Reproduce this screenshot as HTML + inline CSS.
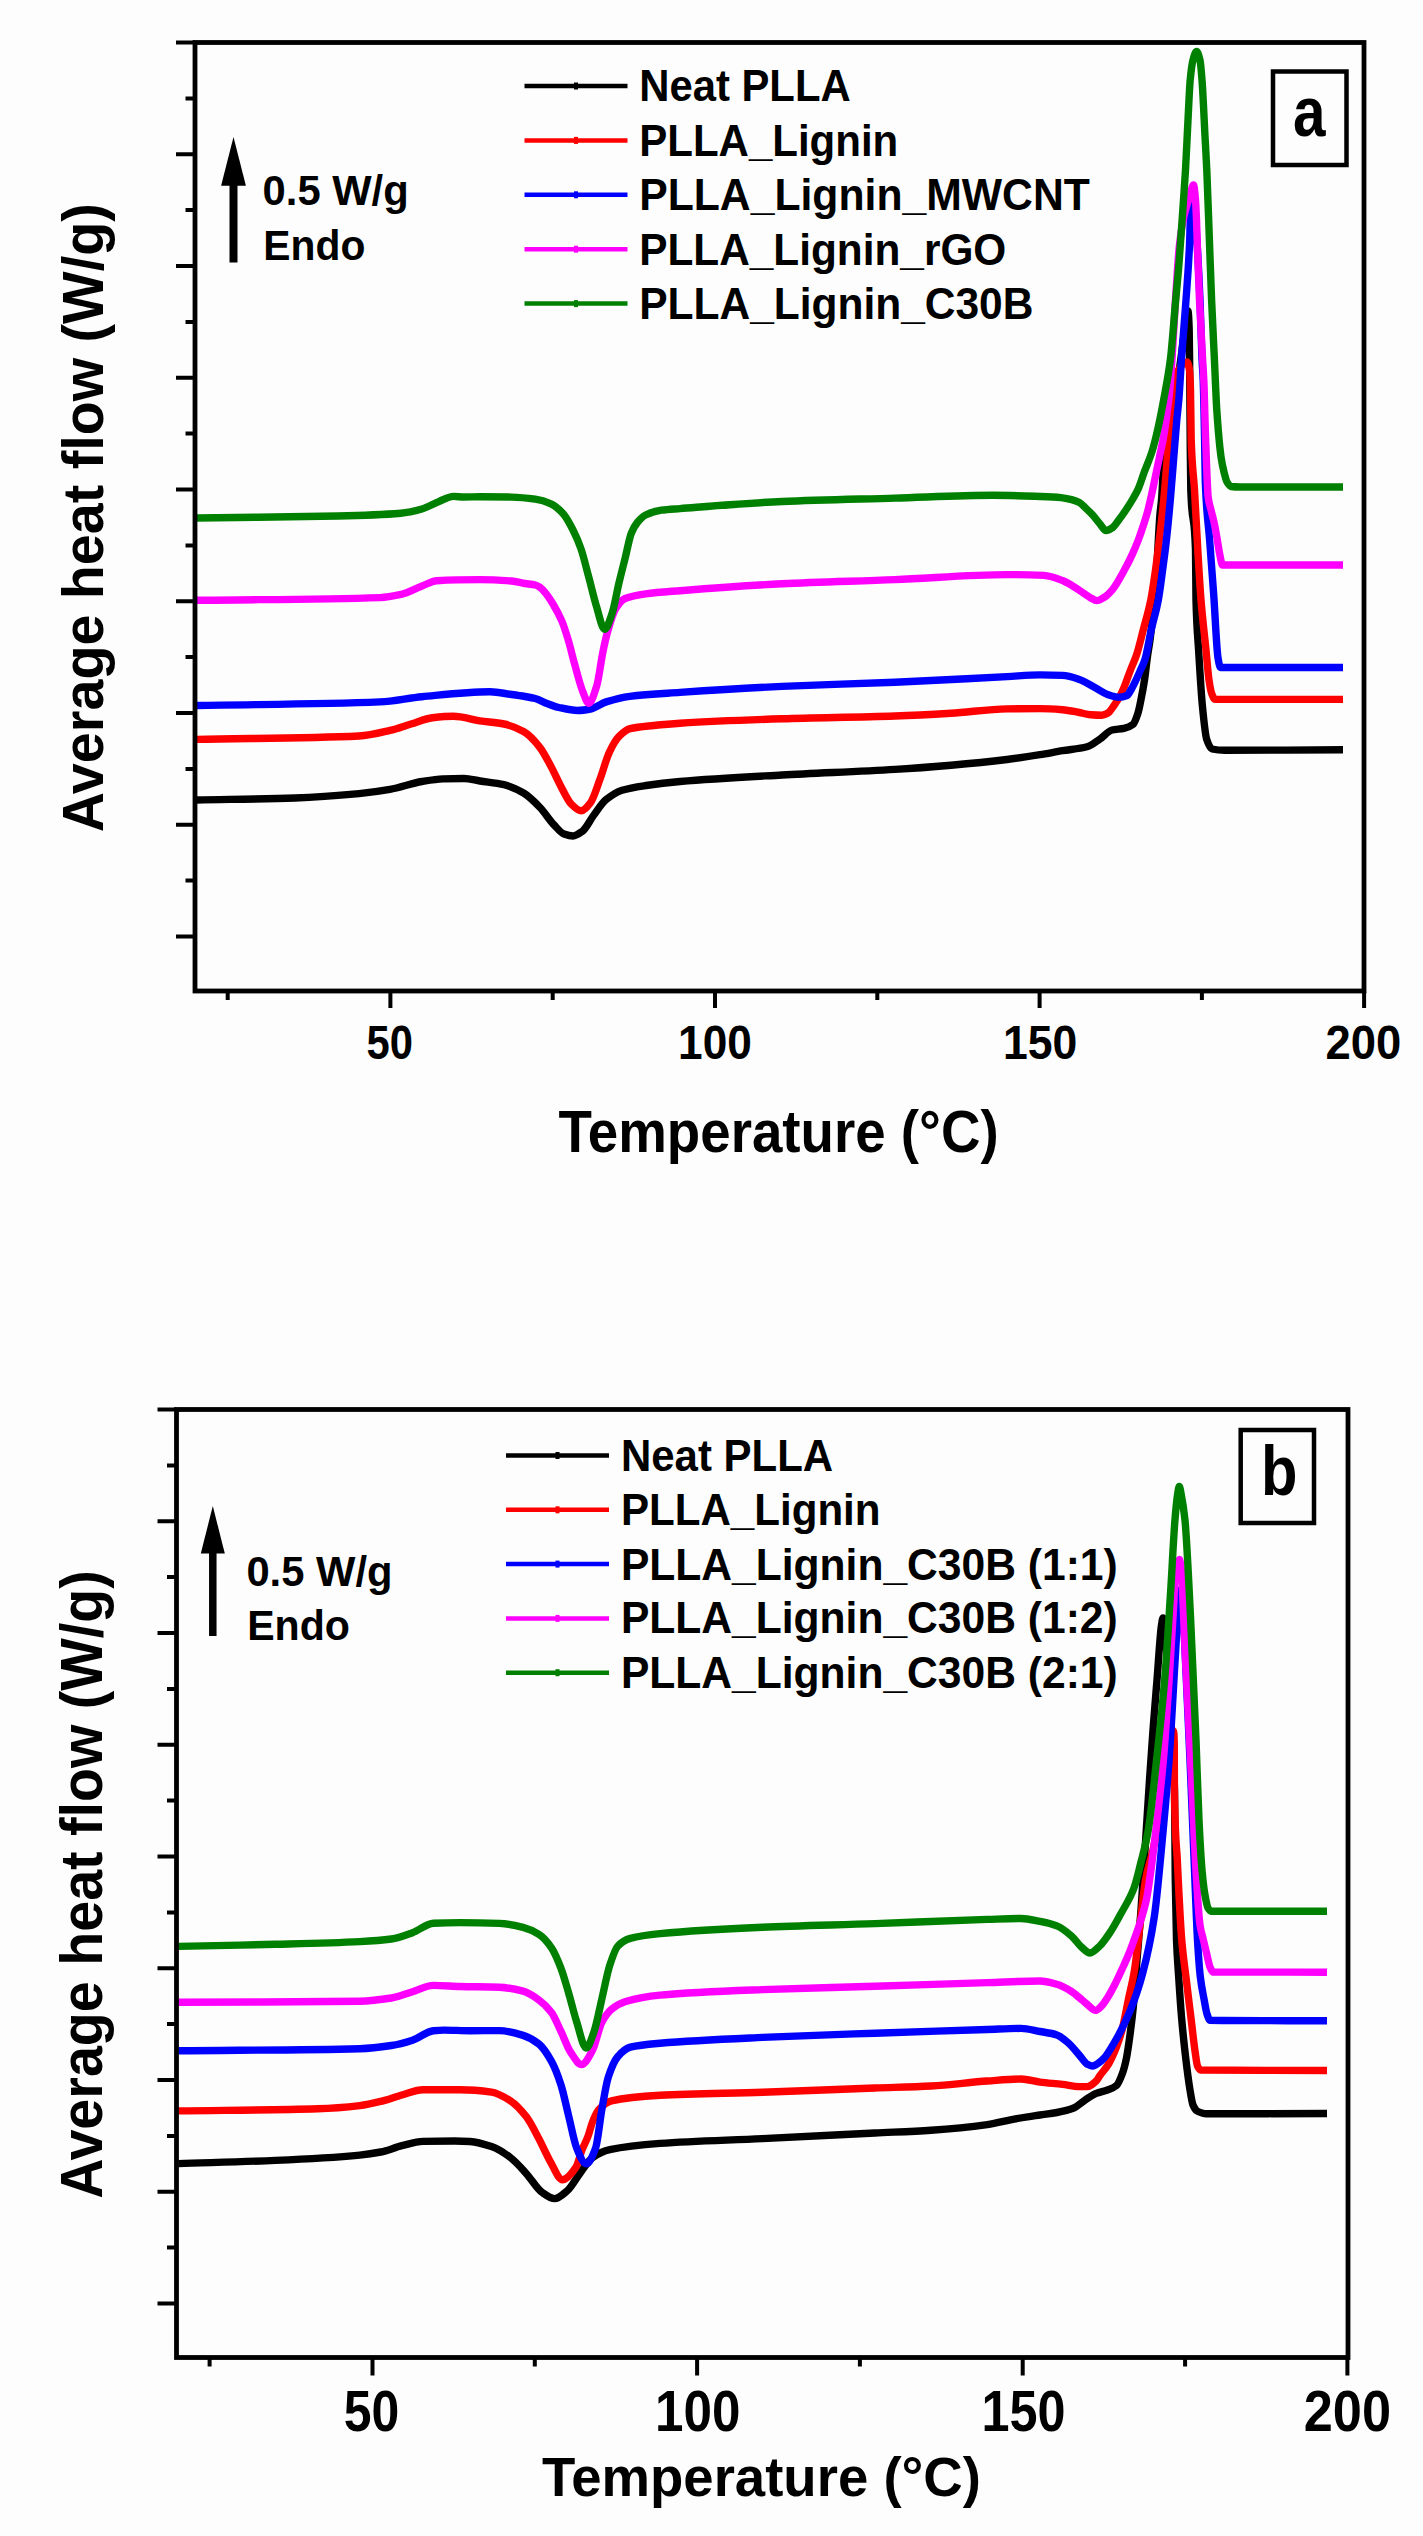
<!DOCTYPE html>
<html><head><meta charset="utf-8"><title>DSC thermograms</title><style>
html,body{margin:0;padding:0;background:#fdfdfd;overflow:hidden;}
svg{display:block;}
text{font-family:"Liberation Sans",sans-serif;font-weight:bold;fill:#000;}
</style></head><body>
<svg xmlns="http://www.w3.org/2000/svg" width="1423" height="2536" viewBox="0 0 1423 2536">
<rect width="1423" height="2536" fill="#fdfdfd"/>
<g>
<path d="M197.00,800.00 C229.67,799.33 262.33,799.07 295.00,798.00 C316.33,797.30 337.67,795.62 359.00,793.60 C369.33,792.62 379.67,791.21 390.00,789.40 C400.67,787.54 411.33,783.22 422.00,781.50 C429.00,780.37 436.00,779.13 443.00,778.90 C450.00,778.67 457.00,778.50 464.00,778.50 C469.33,778.50 474.67,780.17 480.00,781.00 C488.00,782.24 496.00,782.86 504.00,784.70 C510.67,786.24 517.33,789.39 524.00,793.30 C529.33,796.43 534.67,801.96 540.00,807.50 C544.67,812.35 549.33,820.04 554.00,824.90 C557.33,828.37 560.67,832.82 564.00,834.00 C567.00,835.06 570.00,836.00 573.00,836.00 C576.17,836.00 579.33,833.53 582.50,831.20 C586.20,828.47 589.90,820.36 593.60,815.40 C597.73,809.85 601.87,803.09 606.00,799.70 C611.33,795.32 616.67,791.83 622.00,790.20 C630.00,787.76 638.00,786.69 646.00,785.50 C657.33,783.81 668.67,782.49 680.00,781.50 C714.00,778.54 748.00,776.90 782.00,775.00 C819.67,772.90 857.33,771.70 895.00,769.40 C913.67,768.26 932.33,766.81 951.00,765.20 C969.67,763.59 988.33,761.77 1007.00,759.50 C1018.00,758.16 1029.00,756.47 1040.00,754.70 C1047.50,753.49 1055.00,751.96 1062.50,750.70 C1070.67,749.33 1078.83,748.98 1087.00,746.80 C1091.33,745.64 1095.67,741.89 1100.00,739.00 C1104.00,736.33 1108.00,730.95 1112.00,730.00 C1116.00,729.05 1120.00,729.18 1124.00,728.30 C1127.00,727.64 1130.00,726.68 1133.00,724.30 C1134.67,722.98 1136.33,718.14 1138.00,713.00 C1139.00,709.91 1140.00,704.56 1141.00,699.60 C1142.20,693.65 1143.40,687.37 1144.60,679.40 C1145.53,673.20 1146.47,663.71 1147.40,657.00 C1148.27,650.77 1149.13,646.67 1150.00,640.00 C1152.00,624.61 1154.00,605.32 1156.00,580.00 C1157.33,563.12 1158.67,529.26 1160.00,514.00 C1160.50,508.28 1161.00,505.76 1161.50,500.00 C1162.17,492.32 1162.83,475.02 1163.50,469.00 C1165.17,453.95 1166.83,450.40 1168.50,440.00 C1169.50,433.76 1170.50,426.67 1171.50,420.00 C1173.00,410.00 1174.50,399.67 1176.00,390.00 C1177.33,381.40 1178.67,374.09 1180.00,365.00 C1181.33,355.91 1182.67,344.47 1184.00,335.00 C1184.83,329.08 1185.67,322.54 1186.50,318.00 C1187.00,315.27 1187.50,311.00 1188.00,311.00 C1188.40,311.00 1188.80,318.27 1189.20,330.00 C1189.33,333.91 1189.47,347.03 1189.60,360.00 C1189.70,369.73 1189.80,387.08 1189.90,400.00 C1190.03,417.23 1190.17,436.89 1190.30,450.00 C1190.47,466.39 1190.63,485.44 1190.80,490.00 C1192.37,532.86 1193.93,505.20 1195.50,550.00 C1195.67,554.77 1195.83,593.65 1196.00,600.00 C1196.87,633.01 1197.73,635.47 1198.60,650.00 C1199.90,671.79 1201.20,693.82 1202.50,707.00 C1203.90,721.19 1205.30,735.19 1206.70,739.40 C1208.47,744.71 1210.23,748.62 1212.00,749.00 C1216.33,749.94 1220.67,750.30 1225.00,750.30 C1264.33,750.30 1303.67,749.97 1343.00,749.80" fill="none" stroke="#000000" stroke-width="7.4" stroke-linejoin="round" stroke-linecap="butt"/>
<path d="M197.00,739.40 C251.00,738.27 305.00,738.47 359.00,736.00 C369.33,735.53 379.67,732.78 390.00,730.40 C397.00,728.79 404.00,726.09 411.00,724.00 C418.17,721.86 425.33,718.48 432.50,717.70 C439.50,716.94 446.50,716.30 453.50,716.30 C462.33,716.30 471.17,719.48 480.00,720.80 C488.00,721.99 496.00,722.39 504.00,724.00 C510.67,725.34 517.33,728.01 524.00,731.80 C529.33,734.83 534.67,740.80 540.00,747.60 C543.67,752.28 547.33,759.71 551.00,766.50 C554.67,773.29 558.33,781.94 562.00,788.60 C565.17,794.35 568.33,801.40 571.50,804.40 C574.67,807.40 577.83,810.70 581.00,810.70 C584.13,810.70 587.27,806.72 590.40,802.80 C593.60,798.79 596.80,787.61 600.00,779.10 C603.10,770.85 606.20,758.82 609.30,752.30 C612.47,745.64 615.63,739.77 618.80,736.60 C622.53,732.87 626.27,729.63 630.00,728.70 C637.83,726.76 645.67,726.33 653.50,725.50 C662.33,724.56 671.17,723.74 680.00,723.20 C714.00,721.10 748.00,719.88 782.00,718.80 C819.67,717.61 857.33,717.30 895.00,716.00 C913.67,715.36 932.33,714.33 951.00,713.20 C969.67,712.07 988.33,709.18 1007.00,708.90 C1018.00,708.73 1029.00,708.60 1040.00,708.60 C1047.50,708.60 1055.00,709.12 1062.50,709.70 C1068.13,710.14 1073.77,711.46 1079.40,712.50 C1083.13,713.19 1086.87,714.53 1090.60,714.80 C1094.33,715.07 1098.07,715.30 1101.80,715.30 C1103.87,715.30 1105.93,714.18 1108.00,713.00 C1110.27,711.71 1112.53,707.54 1114.80,704.30 C1116.53,701.83 1118.27,699.18 1120.00,696.00 C1121.33,693.55 1122.67,690.64 1124.00,687.50 C1126.17,682.40 1128.33,675.61 1130.50,670.00 C1132.50,664.82 1134.50,660.97 1136.50,655.00 C1138.73,648.34 1140.97,638.56 1143.20,630.00 C1145.73,620.29 1148.27,612.59 1150.80,600.00 C1152.37,592.21 1153.93,581.10 1155.50,570.00 C1156.77,561.03 1158.03,550.70 1159.30,540.00 C1160.83,527.05 1162.37,513.76 1163.90,498.00 C1165.57,480.87 1167.23,456.04 1168.90,439.00 C1169.77,430.14 1170.63,423.51 1171.50,415.00 C1172.23,407.80 1172.97,399.15 1173.70,392.00 C1174.13,387.77 1174.57,382.06 1175.00,380.00 C1176.17,374.46 1177.33,372.15 1178.50,370.00 C1180.00,367.23 1181.50,365.08 1183.00,364.00 C1184.33,363.04 1185.67,362.00 1187.00,362.00 C1187.83,362.00 1188.67,364.87 1189.50,370.00 C1189.83,372.05 1190.17,379.23 1190.50,390.00 C1190.73,397.54 1190.97,433.21 1191.20,440.00 C1192.30,472.01 1193.40,471.82 1194.50,490.00 C1195.60,508.18 1196.70,531.52 1197.80,550.00 C1198.87,567.92 1199.93,586.78 1201.00,600.00 C1202.67,620.66 1204.33,633.33 1206.00,650.00 C1207.00,660.00 1208.00,673.22 1209.00,680.00 C1209.83,685.65 1210.67,690.68 1211.50,693.00 C1212.67,696.24 1213.83,699.40 1215.00,699.40 C1257.67,699.40 1300.33,699.40 1343.00,699.40" fill="none" stroke="#ff0000" stroke-width="7.4" stroke-linejoin="round" stroke-linecap="butt"/>
<path d="M197.00,705.50 C258.00,704.30 319.00,704.34 380.00,701.90 C394.00,701.34 408.00,698.00 422.00,696.70 C444.67,694.59 467.33,691.80 490.00,691.80 C497.17,691.80 504.33,693.52 511.50,694.50 C516.00,695.12 520.50,695.74 525.00,696.50 C528.40,697.08 531.80,697.60 535.20,698.50 C539.13,699.55 543.07,702.03 547.00,703.50 C550.97,704.99 554.93,706.62 558.90,707.50 C565.20,708.90 571.50,710.50 577.80,710.50 C582.00,710.50 586.20,709.77 590.40,709.00 C595.67,708.03 600.93,703.57 606.20,701.90 C614.07,699.41 621.93,697.28 629.80,696.30 C646.53,694.21 663.27,693.54 680.00,692.40 C714.00,690.09 748.00,687.95 782.00,686.40 C819.67,684.68 857.33,683.81 895.00,682.20 C932.33,680.61 969.67,678.50 1007.00,676.60 C1018.00,676.04 1029.00,674.90 1040.00,674.90 C1047.50,674.90 1055.00,675.08 1062.50,675.40 C1068.13,675.64 1073.77,677.56 1079.40,679.40 C1085.00,681.23 1090.60,685.28 1096.20,688.30 C1099.97,690.33 1103.73,693.21 1107.50,694.50 C1111.23,695.78 1114.97,697.30 1118.70,697.30 C1121.47,697.30 1124.23,696.63 1127.00,695.50 C1128.50,694.89 1130.00,691.51 1131.50,689.00 C1133.17,686.21 1134.83,682.54 1136.50,679.00 C1137.83,676.17 1139.17,673.05 1140.50,670.00 C1141.93,666.72 1143.37,664.36 1144.80,660.00 C1146.93,653.51 1149.07,639.49 1151.20,630.00 C1153.57,619.47 1155.93,612.71 1158.30,600.00 C1159.73,592.30 1161.17,580.63 1162.60,570.00 C1163.87,560.61 1165.13,551.29 1166.40,540.00 C1167.73,528.12 1169.07,514.00 1170.40,499.00 C1171.47,487.00 1172.53,472.57 1173.60,459.40 C1174.67,446.23 1175.73,431.68 1176.80,420.00 C1177.47,412.70 1178.13,407.96 1178.80,400.00 C1179.70,389.26 1180.60,371.74 1181.50,359.00 C1183.00,337.76 1184.50,321.52 1186.00,300.00 C1187.17,283.26 1188.33,270.54 1189.50,245.00 C1189.83,237.70 1190.17,220.65 1190.50,215.00 C1191.00,206.52 1191.50,198.00 1192.00,198.00 C1192.83,198.00 1193.67,202.88 1194.50,208.00 C1195.40,213.53 1196.30,230.49 1197.20,245.00 C1198.13,260.05 1199.07,277.74 1200.00,300.00 C1200.67,315.90 1201.33,344.66 1202.00,359.00 C1202.40,367.60 1202.80,370.17 1203.20,380.00 C1203.67,391.47 1204.13,416.23 1204.60,440.00 C1204.83,451.89 1205.07,475.97 1205.30,482.00 C1206.70,518.19 1208.10,519.63 1209.50,538.40 C1210.90,557.17 1212.30,574.99 1213.70,594.60 C1215.13,614.68 1216.57,649.43 1218.00,657.80 C1218.83,662.67 1219.67,667.50 1220.50,667.50 C1261.33,667.50 1302.17,667.50 1343.00,667.50" fill="none" stroke="#0000ff" stroke-width="7.4" stroke-linejoin="round" stroke-linecap="butt"/>
<path d="M197.00,600.30 C258.00,599.40 319.00,599.70 380.00,597.60 C387.00,597.36 394.00,595.94 401.00,594.40 C408.00,592.86 415.00,588.65 422.00,586.00 C426.90,584.15 431.80,580.97 436.70,580.70 C451.13,579.90 465.57,579.60 480.00,579.60 C490.50,579.60 501.00,580.18 511.50,581.00 C516.00,581.35 520.50,582.77 525.00,583.50 C528.40,584.05 531.80,584.17 535.20,585.00 C536.80,585.39 538.40,586.33 540.00,587.40 C542.33,588.96 544.67,592.05 547.00,595.00 C549.00,597.53 551.00,600.65 553.00,604.00 C556.00,609.03 559.00,614.26 562.00,621.40 C564.10,626.40 566.20,633.29 568.30,640.30 C570.40,647.31 572.50,656.49 574.60,664.00 C577.23,673.41 579.87,684.24 582.50,690.80 C584.60,696.03 586.70,703.40 588.80,703.40 C591.43,703.40 594.07,694.41 596.70,686.00 C598.80,679.29 600.90,661.43 603.00,651.40 C604.60,643.75 606.20,636.44 607.80,630.90 C610.40,621.90 613.00,612.94 615.60,608.80 C618.77,603.76 621.93,599.80 625.10,598.50 C631.93,595.69 638.77,594.72 645.60,593.80 C657.07,592.26 668.53,591.61 680.00,590.70 C714.00,588.01 748.00,585.44 782.00,583.80 C819.67,581.98 857.33,581.13 895.00,579.60 C932.33,578.09 969.67,574.60 1007.00,574.60 C1019.30,574.60 1031.60,574.86 1043.90,575.40 C1050.43,575.69 1056.97,578.45 1063.50,581.00 C1068.80,583.07 1074.10,587.08 1079.40,590.40 C1082.93,592.61 1086.47,595.53 1090.00,597.40 C1092.37,598.65 1094.73,600.60 1097.10,600.60 C1099.40,600.60 1101.70,598.88 1104.00,597.50 C1106.83,595.80 1109.67,592.92 1112.50,589.60 C1116.50,584.92 1120.50,577.06 1124.50,569.80 C1127.13,565.02 1129.77,559.84 1132.40,554.10 C1134.37,549.81 1136.33,545.15 1138.30,540.00 C1140.03,535.46 1141.77,530.37 1143.50,525.00 C1145.00,520.35 1146.50,515.65 1148.00,510.00 C1149.17,505.60 1150.33,500.25 1151.50,495.00 C1152.83,489.00 1154.17,482.33 1155.50,476.00 C1156.83,469.67 1158.17,463.41 1159.50,457.00 C1160.67,451.40 1161.83,446.30 1163.00,440.00 C1163.83,435.50 1164.67,430.58 1165.50,425.00 C1166.17,420.54 1166.83,415.27 1167.50,410.00 C1168.10,405.26 1168.70,401.06 1169.30,395.00 C1170.20,385.91 1171.10,372.33 1172.00,359.00 C1173.17,341.72 1174.33,317.71 1175.50,300.00 C1176.83,279.76 1178.17,256.78 1179.50,245.00 C1181.00,231.74 1182.50,222.82 1184.00,216.00 C1185.83,207.67 1187.67,202.87 1189.50,197.00 C1190.83,192.73 1192.17,185.00 1193.50,185.00 C1194.17,185.00 1194.83,192.34 1195.50,200.00 C1195.83,203.83 1196.17,212.00 1196.50,220.00 C1196.83,228.00 1197.17,240.82 1197.50,250.00 C1198.17,268.37 1198.83,285.41 1199.50,300.00 C1200.53,322.61 1201.57,340.70 1202.60,359.30 C1203.00,366.50 1203.40,371.14 1203.80,380.00 C1204.40,393.29 1205.00,423.05 1205.60,439.00 C1206.50,462.92 1207.40,491.35 1208.30,498.00 C1209.20,504.65 1210.10,506.21 1211.00,510.00 C1212.00,514.21 1213.00,517.43 1214.00,522.00 C1215.00,526.57 1216.00,532.34 1217.00,538.00 C1217.80,542.53 1218.60,548.49 1219.40,552.40 C1220.43,557.45 1221.47,565.00 1222.50,565.00 C1262.67,565.00 1302.83,565.00 1343.00,565.00" fill="none" stroke="#ff00ff" stroke-width="7.4" stroke-linejoin="round" stroke-linecap="butt"/>
<path d="M197.00,518.00 C243.87,517.33 290.73,517.08 337.60,516.00 C358.67,515.51 379.73,514.91 400.80,513.20 C407.83,512.63 414.87,510.95 421.90,509.00 C427.53,507.44 433.17,503.80 438.80,501.60 C443.70,499.69 448.60,496.40 453.50,496.40 C457.00,496.40 460.50,497.00 464.00,497.00 C469.33,497.00 474.67,496.80 480.00,496.80 C490.50,496.80 501.00,496.91 511.50,497.10 C519.40,497.24 527.30,498.08 535.20,499.20 C540.47,499.95 545.73,501.56 551.00,503.90 C555.20,505.76 559.40,509.50 563.60,514.20 C566.73,517.71 569.87,523.82 573.00,530.00 C575.67,535.26 578.33,541.25 581.00,548.90 C583.60,556.36 586.20,567.65 588.80,577.30 C591.43,587.07 594.07,598.73 596.70,607.20 C599.33,615.67 601.97,629.30 604.60,629.30 C607.23,629.30 609.87,619.86 612.50,612.00 C614.60,605.73 616.70,592.52 618.80,583.60 C620.90,574.68 623.00,566.73 625.10,558.30 C627.20,549.87 629.30,538.11 631.40,533.00 C633.50,527.89 635.60,524.50 637.70,522.00 C640.33,518.87 642.97,516.26 645.60,515.00 C650.87,512.48 656.13,510.92 661.40,510.20 C667.60,509.36 673.80,509.09 680.00,508.60 C714.00,505.92 748.00,502.94 782.00,501.50 C819.67,499.91 857.33,499.20 895.00,498.10 C927.67,497.14 960.33,495.30 993.00,495.30 C1008.67,495.30 1024.33,495.94 1040.00,496.50 C1047.00,496.75 1054.00,496.98 1061.00,497.60 C1064.53,497.91 1068.07,498.78 1071.60,499.70 C1074.20,500.37 1076.80,501.15 1079.40,502.50 C1081.50,503.59 1083.60,506.13 1085.70,508.10 C1088.03,510.29 1090.37,512.54 1092.70,515.10 C1095.03,517.66 1097.37,520.92 1099.70,523.60 C1101.83,526.05 1103.97,530.60 1106.10,530.60 C1108.20,530.60 1110.30,529.17 1112.40,527.80 C1114.50,526.43 1116.60,522.85 1118.70,520.10 C1121.03,517.04 1123.37,513.68 1125.70,510.20 C1128.07,506.67 1130.43,503.09 1132.80,499.00 C1134.67,495.78 1136.53,492.61 1138.40,488.40 C1140.30,484.12 1142.20,477.68 1144.10,472.50 C1146.80,465.14 1149.50,459.63 1152.20,451.00 C1154.00,445.25 1155.80,437.85 1157.60,430.00 C1159.73,420.70 1161.87,409.68 1164.00,398.00 C1166.13,386.32 1168.27,376.21 1170.40,359.30 C1172.17,345.30 1173.93,319.65 1175.70,300.00 C1176.77,288.14 1177.83,277.71 1178.90,264.60 C1180.43,245.76 1181.97,222.34 1183.50,200.00 C1184.17,190.29 1184.83,181.37 1185.50,170.00 C1186.33,155.79 1187.17,135.86 1188.00,120.00 C1188.73,106.05 1189.47,87.65 1190.20,80.00 C1191.13,70.26 1192.07,63.38 1193.00,60.00 C1194.20,55.65 1195.40,51.50 1196.60,51.50 C1197.73,51.50 1198.87,55.22 1200.00,60.00 C1200.67,62.81 1201.33,71.50 1202.00,80.00 C1203.07,93.59 1204.13,120.00 1205.20,140.00 C1205.73,150.00 1206.27,158.38 1206.80,170.00 C1207.67,188.89 1208.53,216.51 1209.40,240.00 C1210.13,259.87 1210.87,282.43 1211.60,300.00 C1212.53,322.37 1213.47,339.56 1214.40,359.30 C1215.20,376.22 1216.00,398.12 1216.80,410.00 C1218.27,431.78 1219.73,448.21 1221.20,458.00 C1222.13,464.23 1223.07,468.26 1224.00,472.00 C1225.00,476.01 1226.00,480.28 1227.00,482.00 C1228.33,484.30 1229.67,486.34 1231.00,486.50 C1234.00,486.86 1237.00,487.00 1240.00,487.00 C1274.33,487.00 1308.67,487.00 1343.00,487.00" fill="none" stroke="#008000" stroke-width="7.4" stroke-linejoin="round" stroke-linecap="butt"/>
<rect x="195" y="42.5" width="1169.0" height="948.5" fill="none" stroke="#000" stroke-width="4.8"/>
<path d="M176.0,42.5H195M176.0,154.2H195M176.0,266.0H195M176.0,377.8H195M176.0,489.5H195M176.0,601.2H195M176.0,713.0H195M176.0,824.8H195M176.0,936.5H195M185.5,98.4H195M185.5,210.1H195M185.5,321.9H195M185.5,433.6H195M185.5,545.4H195M185.5,657.1H195M185.5,768.9H195M185.5,880.6H195M390.4,991V1008.0M715.0,991V1008.0M1039.6,991V1008.0M1364.1,991V1008.0M227.7,991V1000.0M552.7,991V1000.0M877.3,991V1000.0M1201.9,991V1000.0" stroke="#000" stroke-width="4" fill="none"/>
<line x1="524.5" y1="86.0" x2="627.5" y2="86.0" stroke="#000000" stroke-width="4.5"/>
<rect x="574.0" y="82.5" width="4" height="7" fill="#000000"/>
<line x1="524.5" y1="140.4" x2="627.5" y2="140.4" stroke="#ff0000" stroke-width="4.5"/>
<rect x="574.0" y="136.9" width="4" height="7" fill="#ff0000"/>
<line x1="524.5" y1="194.8" x2="627.5" y2="194.8" stroke="#0000ff" stroke-width="4.5"/>
<rect x="574.0" y="191.3" width="4" height="7" fill="#0000ff"/>
<line x1="524.5" y1="249.2" x2="627.5" y2="249.2" stroke="#ff00ff" stroke-width="4.5"/>
<rect x="574.0" y="245.7" width="4" height="7" fill="#ff00ff"/>
<line x1="524.5" y1="303.6" x2="627.5" y2="303.6" stroke="#008000" stroke-width="4.5"/>
<rect x="574.0" y="300.1" width="4" height="7" fill="#008000"/>
<line x1="233.5" y1="183.7" x2="233.5" y2="262.5" stroke="#000" stroke-width="8"/>
<polygon points="233.5,137 221.1,185.7 245.9,185.7" fill="#000"/>
<rect x="1273" y="71.5" width="73.5" height="93.5" fill="none" stroke="#000" stroke-width="4.5"/>
</g>
<g>
<path d="M178.40,2163.60 C210.73,2162.53 243.07,2161.81 275.40,2160.40 C303.53,2159.17 331.67,2157.80 359.80,2155.10 C366.80,2154.43 373.80,2153.38 380.80,2152.00 C387.83,2150.61 394.87,2147.40 401.90,2145.70 C408.93,2144.00 415.97,2141.58 423.00,2141.40 C433.53,2141.13 444.07,2141.00 454.60,2141.00 C459.73,2141.00 464.87,2141.22 470.00,2141.50 C477.17,2141.89 484.33,2144.17 491.50,2146.60 C497.83,2148.75 504.17,2152.90 510.50,2157.60 C515.73,2161.48 520.97,2167.68 526.20,2173.40 C531.47,2179.16 536.73,2188.64 542.00,2192.30 C546.20,2195.22 550.40,2198.60 554.60,2198.60 C558.83,2198.60 563.07,2194.33 567.30,2190.70 C571.50,2187.10 575.70,2178.91 579.90,2173.40 C584.10,2167.89 588.30,2160.48 592.50,2157.60 C598.27,2153.64 604.03,2150.95 609.80,2149.70 C626.53,2146.07 643.27,2144.60 660.00,2143.40 C694.13,2140.94 728.27,2140.25 762.40,2138.60 C799.90,2136.79 837.40,2134.87 874.90,2133.00 C893.63,2132.07 912.37,2131.44 931.10,2130.20 C949.83,2128.96 968.57,2127.20 987.30,2124.60 C996.67,2123.30 1006.03,2120.56 1015.40,2118.90 C1023.60,2117.44 1031.80,2116.25 1040.00,2115.00 C1045.63,2114.14 1051.27,2113.57 1056.90,2112.50 C1062.50,2111.43 1068.10,2110.23 1073.70,2108.00 C1077.47,2106.50 1081.23,2102.53 1085.00,2100.10 C1088.73,2097.69 1092.47,2094.90 1096.20,2093.40 C1099.97,2091.89 1103.73,2091.43 1107.50,2090.00 C1110.50,2088.86 1113.50,2088.02 1116.50,2085.50 C1118.37,2083.93 1120.23,2079.23 1122.10,2074.30 C1123.60,2070.34 1125.10,2064.68 1126.60,2057.40 C1127.73,2051.90 1128.87,2043.35 1130.00,2034.90 C1131.10,2026.70 1132.20,2017.95 1133.30,2006.80 C1134.53,1994.29 1135.77,1975.51 1137.00,1960.00 C1138.33,1943.23 1139.67,1928.18 1141.00,1910.00 C1142.33,1891.82 1143.67,1870.36 1145.00,1850.00 C1146.50,1827.10 1148.00,1802.30 1149.50,1780.00 C1150.67,1762.65 1151.83,1745.58 1153.00,1730.00 C1154.33,1712.20 1155.67,1696.48 1157.00,1680.00 C1158.50,1661.46 1160.00,1634.43 1161.50,1625.00 C1162.00,1621.86 1162.50,1618.00 1163.00,1618.00 C1163.83,1618.00 1164.67,1627.29 1165.50,1635.00 C1166.50,1644.25 1167.50,1664.21 1168.50,1680.00 C1169.50,1695.79 1170.50,1711.82 1171.50,1730.00 C1172.50,1748.18 1173.50,1750.30 1174.50,1790.00 C1174.76,1800.19 1175.01,1861.76 1175.27,1880.00 C1175.68,1909.14 1176.09,1929.21 1176.50,1940.00 C1177.24,1959.47 1177.98,1966.05 1178.72,1977.50 C1179.60,1991.11 1180.48,2004.51 1181.36,2015.00 C1182.59,2029.71 1183.83,2041.62 1185.06,2052.40 C1186.71,2066.80 1188.35,2080.23 1190.00,2090.00 C1191.00,2095.94 1192.00,2102.63 1193.00,2105.00 C1194.33,2108.16 1195.67,2110.14 1197.00,2111.00 C1198.67,2112.08 1200.33,2112.56 1202.00,2113.00 C1203.33,2113.35 1204.67,2113.80 1206.00,2113.80 C1246.33,2113.80 1286.67,2113.60 1327.00,2113.50" fill="none" stroke="#000000" stroke-width="7.4" stroke-linejoin="round" stroke-linecap="butt"/>
<path d="M178.40,2110.90 C224.80,2110.20 271.20,2110.13 317.60,2108.80 C331.67,2108.40 345.73,2107.23 359.80,2105.60 C366.80,2104.79 373.80,2103.09 380.80,2101.40 C387.83,2099.70 394.87,2096.91 401.90,2095.00 C408.93,2093.09 415.97,2089.80 423.00,2089.80 C435.33,2089.80 447.67,2089.80 460.00,2089.80 C470.50,2089.80 481.00,2090.69 491.50,2092.10 C497.83,2092.95 504.17,2096.77 510.50,2100.80 C515.73,2104.13 520.97,2109.86 526.20,2116.60 C530.43,2122.05 534.67,2130.79 538.90,2138.70 C542.57,2145.55 546.23,2154.48 549.90,2160.80 C554.10,2168.04 558.30,2179.70 562.50,2179.70 C567.00,2179.70 571.50,2173.87 576.00,2167.10 C578.00,2164.09 580.00,2155.10 582.00,2150.00 C584.10,2144.65 586.20,2141.20 588.30,2135.50 C589.70,2131.70 591.10,2125.50 592.50,2122.00 C594.50,2117.00 596.50,2112.23 598.50,2110.00 C602.80,2105.20 607.10,2101.78 611.40,2100.80 C627.60,2097.12 643.80,2096.13 660.00,2095.30 C694.13,2093.55 728.27,2093.34 762.40,2092.20 C799.90,2090.95 837.40,2089.36 874.90,2088.00 C893.63,2087.32 912.37,2086.95 931.10,2086.00 C949.83,2085.05 968.57,2082.31 987.30,2081.00 C998.53,2080.21 1009.77,2079.00 1021.00,2079.00 C1027.33,2079.00 1033.67,2081.30 1040.00,2082.10 C1047.50,2083.05 1055.00,2083.54 1062.50,2084.40 C1068.13,2085.05 1073.77,2086.60 1079.40,2086.60 C1082.00,2086.60 1084.60,2086.60 1087.20,2086.60 C1090.20,2086.60 1093.20,2083.81 1096.20,2081.00 C1097.30,2079.97 1098.40,2077.65 1099.50,2076.10 C1102.47,2071.91 1105.43,2069.17 1108.40,2064.30 C1111.17,2059.75 1113.93,2053.62 1116.70,2046.50 C1118.47,2041.95 1120.23,2036.61 1122.00,2030.00 C1124.17,2021.90 1126.33,2009.40 1128.50,1999.00 C1130.50,1989.40 1132.50,1982.20 1134.50,1970.00 C1136.33,1958.82 1138.17,1940.00 1140.00,1925.00 C1141.83,1910.00 1143.67,1890.03 1145.50,1880.00 C1148.00,1866.33 1150.50,1861.13 1153.00,1850.00 C1155.33,1839.62 1157.67,1827.59 1160.00,1815.00 C1162.00,1804.21 1164.00,1792.48 1166.00,1780.00 C1167.50,1770.64 1169.00,1759.73 1170.50,1750.00 C1171.50,1743.52 1172.50,1731.00 1173.50,1731.00 C1173.77,1731.00 1174.03,1733.52 1174.30,1745.00 C1174.34,1746.72 1174.38,1786.58 1174.42,1789.10 C1175.38,1849.63 1176.34,1839.83 1177.30,1860.00 C1178.78,1891.17 1180.27,1922.51 1181.75,1940.00 C1183.17,1956.74 1184.59,1965.49 1186.01,1977.50 C1187.55,1990.50 1189.08,2002.48 1190.62,2015.00 C1192.15,2027.44 1193.67,2042.11 1195.20,2052.40 C1195.97,2057.57 1196.73,2064.28 1197.50,2066.00 C1198.50,2068.24 1199.50,2069.99 1200.50,2070.00 C1242.67,2070.49 1284.83,2070.33 1327.00,2070.50" fill="none" stroke="#ff0000" stroke-width="7.4" stroke-linejoin="round" stroke-linecap="butt"/>
<path d="M178.40,2050.80 C238.87,2050.10 299.33,2050.24 359.80,2048.70 C370.33,2048.43 380.87,2047.06 391.40,2045.50 C398.43,2044.46 405.47,2042.47 412.50,2040.20 C419.50,2037.94 426.50,2031.35 433.50,2030.70 C437.00,2030.37 440.50,2030.10 444.00,2030.10 C452.67,2030.10 461.33,2030.70 470.00,2030.70 C479.80,2030.70 489.60,2030.60 499.40,2030.60 C507.30,2030.60 515.20,2032.99 523.10,2035.40 C528.37,2037.00 533.63,2039.82 538.90,2044.00 C543.10,2047.33 547.30,2053.84 551.50,2061.40 C554.67,2067.10 557.83,2075.17 561.00,2085.00 C563.60,2093.07 566.20,2106.15 568.80,2116.60 C571.43,2127.18 574.07,2141.84 576.70,2148.10 C579.87,2155.63 583.03,2163.90 586.20,2163.90 C589.33,2163.90 592.47,2156.68 595.60,2148.10 C597.73,2142.26 599.87,2120.47 602.00,2108.70 C604.10,2097.11 606.20,2083.75 608.30,2077.20 C611.43,2067.43 614.57,2060.30 617.70,2056.70 C621.90,2051.88 626.10,2048.26 630.30,2047.20 C640.20,2044.70 650.10,2044.05 660.00,2043.20 C694.13,2040.26 728.27,2038.94 762.40,2037.40 C799.90,2035.71 837.40,2034.51 874.90,2033.20 C912.37,2031.89 949.83,2030.73 987.30,2029.50 C998.53,2029.13 1009.77,2028.40 1021.00,2028.40 C1027.33,2028.40 1033.67,2030.36 1040.00,2031.50 C1045.63,2032.52 1051.27,2033.07 1056.90,2034.90 C1060.63,2036.11 1064.37,2039.60 1068.10,2042.80 C1071.87,2046.03 1075.63,2050.96 1079.40,2055.20 C1082.00,2058.13 1084.60,2062.79 1087.20,2064.20 C1088.80,2065.07 1090.40,2066.00 1092.00,2066.00 C1095.53,2066.00 1099.06,2062.67 1102.59,2059.70 C1106.11,2056.74 1109.63,2050.39 1113.15,2044.60 C1118.83,2035.26 1124.50,2024.33 1130.18,2010.60 C1134.30,2000.64 1138.42,1988.94 1142.54,1973.70 C1146.46,1959.21 1150.37,1942.70 1154.29,1916.90 C1156.76,1900.61 1159.24,1871.92 1161.71,1845.90 C1164.14,1820.30 1166.58,1794.22 1169.01,1760.70 C1170.74,1736.87 1172.47,1705.52 1174.20,1675.50 C1175.49,1653.06 1176.79,1634.47 1178.08,1604.50 C1178.22,1601.26 1178.36,1593.49 1178.50,1593.00 C1179.17,1590.64 1179.83,1590.00 1180.50,1590.00 C1181.17,1590.00 1181.83,1594.78 1182.50,1600.00 C1183.33,1606.52 1184.17,1632.63 1185.00,1650.00 C1186.67,1684.74 1188.33,1721.37 1190.00,1760.00 C1191.50,1794.77 1193.00,1834.24 1194.50,1870.00 C1195.50,1893.84 1196.50,1923.39 1197.50,1940.00 C1198.47,1956.06 1199.43,1969.52 1200.40,1977.50 C1201.67,1987.96 1202.93,1993.16 1204.20,2000.00 C1205.13,2005.04 1206.07,2011.26 1207.00,2014.00 C1208.00,2016.94 1209.00,2020.19 1210.00,2020.20 C1249.00,2020.78 1288.00,2020.60 1327.00,2020.80" fill="none" stroke="#0000ff" stroke-width="7.4" stroke-linejoin="round" stroke-linecap="butt"/>
<path d="M178.40,2002.30 C238.87,2001.93 299.33,2002.07 359.80,2001.20 C370.33,2001.05 380.87,1999.65 391.40,1998.00 C398.43,1996.90 405.47,1993.80 412.50,1991.70 C419.50,1989.60 426.50,1985.40 433.50,1985.40 C442.33,1985.40 451.17,1986.25 460.00,1986.50 C473.13,1986.87 486.27,1986.79 499.40,1987.30 C507.30,1987.61 515.20,1989.12 523.10,1991.20 C528.37,1992.58 533.63,1996.12 538.90,1999.90 C543.10,2002.92 547.30,2006.82 551.50,2012.50 C554.67,2016.78 557.83,2024.81 561.00,2031.40 C564.13,2037.92 567.27,2047.18 570.40,2051.90 C574.10,2057.47 577.80,2064.50 581.50,2064.50 C585.17,2064.50 588.83,2056.97 592.50,2050.30 C595.67,2044.54 598.83,2027.88 602.00,2022.00 C605.13,2016.18 608.27,2011.82 611.40,2009.30 C616.13,2005.49 620.87,2002.91 625.60,2001.50 C637.07,1998.08 648.53,1996.15 660.00,1995.10 C694.13,1991.97 728.27,1990.90 762.40,1989.60 C799.90,1988.17 837.40,1987.46 874.90,1986.30 C912.37,1985.14 949.83,1983.78 987.30,1982.60 C1004.87,1982.05 1022.43,1981.00 1040.00,1981.00 C1045.63,1981.00 1051.27,1982.71 1056.90,1984.30 C1061.77,1985.68 1066.63,1988.49 1071.50,1991.50 C1075.23,1993.81 1078.97,1997.36 1082.70,2000.50 C1084.80,2002.26 1086.90,2004.38 1089.00,2006.00 C1091.13,2007.64 1093.27,2010.40 1095.40,2010.40 C1097.43,2010.40 1099.47,2007.93 1101.50,2006.00 C1103.63,2003.97 1105.77,2000.37 1107.90,1997.00 C1110.29,1993.22 1112.68,1988.67 1115.07,1984.00 C1117.43,1979.39 1119.78,1974.17 1122.14,1969.00 C1124.49,1963.85 1126.84,1958.80 1129.19,1953.00 C1131.29,1947.81 1133.40,1941.97 1135.50,1936.00 C1137.50,1930.32 1139.50,1924.70 1141.50,1918.00 C1143.18,1912.36 1144.87,1907.11 1146.55,1899.00 C1148.02,1891.93 1149.48,1880.62 1150.95,1870.00 C1152.53,1858.53 1154.12,1845.32 1155.70,1831.70 C1158.24,1809.88 1160.77,1789.31 1163.31,1760.70 C1165.34,1737.81 1167.37,1706.29 1169.40,1675.50 C1170.84,1653.61 1172.29,1631.60 1173.73,1604.50 C1174.15,1596.55 1174.58,1581.99 1175.00,1578.00 C1175.83,1570.15 1176.67,1566.63 1177.50,1564.00 C1178.17,1561.89 1178.83,1559.50 1179.50,1559.50 C1180.10,1559.50 1180.70,1564.83 1181.30,1570.00 C1182.50,1580.35 1183.70,1622.35 1184.90,1647.20 C1186.80,1686.54 1188.70,1722.51 1190.60,1760.70 C1192.47,1798.22 1194.33,1844.64 1196.20,1874.30 C1197.47,1894.42 1198.73,1916.68 1200.00,1925.00 C1201.13,1932.45 1202.27,1935.14 1203.40,1940.00 C1204.60,1945.14 1205.80,1950.11 1207.00,1955.00 C1208.00,1959.08 1209.00,1964.65 1210.00,1967.00 C1211.00,1969.35 1212.00,1971.99 1213.00,1972.00 C1251.00,1972.19 1289.00,1972.13 1327.00,1972.20" fill="none" stroke="#ff00ff" stroke-width="7.4" stroke-linejoin="round" stroke-linecap="butt"/>
<path d="M178.40,1946.40 C210.73,1945.70 243.07,1945.14 275.40,1944.30 C303.53,1943.57 331.67,1942.99 359.80,1941.60 C370.33,1941.08 380.87,1940.41 391.40,1939.00 C398.43,1938.06 405.47,1935.23 412.50,1932.70 C419.50,1930.18 426.50,1923.51 433.50,1923.20 C442.33,1922.81 451.17,1922.60 460.00,1922.60 C473.13,1922.60 486.27,1922.89 499.40,1923.40 C507.30,1923.71 515.20,1925.34 523.10,1927.30 C528.37,1928.61 533.63,1931.02 538.90,1934.40 C543.10,1937.09 547.30,1941.72 551.50,1947.80 C554.67,1952.38 557.83,1960.04 561.00,1968.30 C563.60,1975.08 566.20,1984.73 568.80,1993.60 C571.43,2002.58 574.07,2013.78 576.70,2022.00 C579.87,2031.88 583.03,2048.00 586.20,2048.00 C588.83,2048.00 591.47,2038.77 594.10,2031.40 C596.73,2024.03 599.37,2009.40 602.00,1998.30 C604.60,1987.34 607.20,1973.19 609.80,1965.20 C612.43,1957.11 615.07,1948.92 617.70,1946.20 C621.90,1941.87 626.10,1939.57 630.30,1938.40 C640.20,1935.64 650.10,1934.57 660.00,1933.60 C694.13,1930.25 728.27,1928.65 762.40,1927.20 C799.90,1925.60 837.40,1924.89 874.90,1923.60 C912.37,1922.31 949.83,1920.53 987.30,1919.40 C998.53,1919.06 1009.77,1918.50 1021.00,1918.50 C1027.33,1918.50 1033.67,1920.16 1040.00,1921.40 C1045.63,1922.50 1051.27,1923.71 1056.90,1925.90 C1061.77,1927.79 1066.63,1931.79 1071.50,1936.00 C1074.87,1938.91 1078.23,1944.36 1081.60,1947.20 C1084.40,1949.57 1087.20,1953.00 1090.00,1953.00 C1093.20,1953.00 1096.40,1949.06 1099.60,1946.10 C1103.40,1942.59 1107.20,1936.75 1111.00,1931.00 C1114.33,1925.96 1117.67,1919.64 1121.00,1913.50 C1125.27,1905.64 1129.53,1899.71 1133.80,1888.50 C1136.20,1882.19 1138.60,1871.55 1141.00,1862.00 C1143.33,1852.71 1145.67,1844.87 1148.00,1831.70 C1150.83,1815.71 1153.67,1786.52 1156.50,1760.70 C1159.33,1734.88 1162.17,1709.93 1165.00,1675.50 C1166.90,1652.41 1168.80,1620.26 1170.70,1590.40 C1172.13,1567.87 1173.57,1536.59 1175.00,1519.40 C1175.83,1509.40 1176.67,1500.21 1177.50,1495.00 C1178.10,1491.25 1178.70,1486.50 1179.30,1486.50 C1179.97,1486.50 1180.63,1491.59 1181.30,1495.00 C1182.50,1501.14 1183.70,1508.06 1184.90,1519.40 C1186.80,1537.35 1188.70,1581.47 1190.60,1618.80 C1192.40,1654.17 1194.20,1695.76 1196.00,1740.00 C1197.00,1764.58 1198.00,1799.49 1199.00,1820.00 C1200.00,1840.51 1201.00,1858.89 1202.00,1870.00 C1203.00,1881.11 1204.00,1889.30 1205.00,1895.00 C1206.00,1900.70 1207.00,1906.29 1208.00,1908.00 C1209.00,1909.71 1210.00,1911.20 1211.00,1911.20 C1249.67,1911.20 1288.33,1911.20 1327.00,1911.20" fill="none" stroke="#008000" stroke-width="7.4" stroke-linejoin="round" stroke-linecap="butt"/>
<rect x="176.5" y="1409.5" width="1171.5" height="948.0" fill="none" stroke="#000" stroke-width="4.8"/>
<path d="M157.5,1409.5H176.5M157.5,1521.2H176.5M157.5,1633.0H176.5M157.5,1744.8H176.5M157.5,1856.5H176.5M157.5,1968.2H176.5M157.5,2080.0H176.5M157.5,2191.8H176.5M157.5,2303.5H176.5M167.0,1465.4H176.5M167.0,1577.1H176.5M167.0,1688.9H176.5M167.0,1800.6H176.5M167.0,1912.4H176.5M167.0,2024.1H176.5M167.0,2135.9H176.5M167.0,2247.6H176.5M372.5,2357.5V2375.5M697.1,2357.5V2375.5M1022.7,2357.5V2375.5M1347.4,2357.5V2375.5M209.6,2357.5V2366.5M534.8,2357.5V2366.5M859.9,2357.5V2366.5M1185.1,2357.5V2366.5" stroke="#000" stroke-width="4" fill="none"/>
<line x1="506" y1="1455.5" x2="609" y2="1455.5" stroke="#000000" stroke-width="4.5"/>
<rect x="555.5" y="1452.0" width="4" height="7" fill="#000000"/>
<line x1="506" y1="1509.8" x2="609" y2="1509.8" stroke="#ff0000" stroke-width="4.5"/>
<rect x="555.5" y="1506.3" width="4" height="7" fill="#ff0000"/>
<line x1="506" y1="1564.1" x2="609" y2="1564.1" stroke="#0000ff" stroke-width="4.5"/>
<rect x="555.5" y="1560.6" width="4" height="7" fill="#0000ff"/>
<line x1="506" y1="1618.4" x2="609" y2="1618.4" stroke="#ff00ff" stroke-width="4.5"/>
<rect x="555.5" y="1614.9" width="4" height="7" fill="#ff00ff"/>
<line x1="506" y1="1672.7" x2="609" y2="1672.7" stroke="#008000" stroke-width="4.5"/>
<rect x="555.5" y="1669.2" width="4" height="7" fill="#008000"/>
<line x1="212.8" y1="1551.5" x2="212.8" y2="1636" stroke="#000" stroke-width="7.5"/>
<polygon points="212.8,1506 200.8,1553.5 224.8,1553.5" fill="#000"/>
<rect x="1240.7" y="1430" width="73.3" height="93.0" fill="none" stroke="#000" stroke-width="4.5"/>
</g>
<text transform="translate(366.50,1058.50) scale(0.8785,1)" font-size="47.5">50</text>
<text transform="translate(678.10,1058.50) scale(0.9315,1)" font-size="47.5">100</text>
<text transform="translate(1003.00,1058.50) scale(0.9378,1)" font-size="47.5">150</text>
<text transform="translate(1325.50,1058.50) scale(0.9567,1)" font-size="47.5">200</text>
<text transform="translate(558.40,1152.00) scale(0.9351,1)" font-size="58.5">Temperature (°C)</text>
<text transform="translate(103.20,832.30) rotate(-90) scale(0.9601,1)" font-size="58">Average heat flow (W/g)</text>
<text transform="translate(639.20,101.30) scale(0.9551,1)" font-size="43.8">Neat PLLA</text>
<text transform="translate(639.20,155.70) scale(0.9594,1)" font-size="43.8">PLLA_Lignin</text>
<text transform="translate(639.20,210.10) scale(0.9748,1)" font-size="43.8">PLLA_Lignin_MWCNT</text>
<text transform="translate(639.20,264.60) scale(0.9673,1)" font-size="43.8">PLLA_Lignin_rGO</text>
<text transform="translate(639.20,319.00) scale(0.9704,1)" font-size="43.8">PLLA_Lignin_C30B</text>
<text transform="translate(262.60,205.00) scale(0.9708,1)" font-size="43">0.5 W/g</text>
<text transform="translate(263.30,259.90) scale(0.9498,1)" font-size="43">Endo</text>
<text transform="translate(1293.00,136.20) scale(0.8289,1)" font-size="70.5">a</text>
<text transform="translate(343.70,2430.50) scale(0.8834,1)" font-size="56.5">50</text>
<text transform="translate(655.00,2430.50) scale(0.9062,1)" font-size="56.5">100</text>
<text transform="translate(981.60,2430.50) scale(0.8913,1)" font-size="56.5">150</text>
<text transform="translate(1303.80,2430.50) scale(0.9253,1)" font-size="56.5">200</text>
<text transform="translate(541.90,2495.90) scale(0.9829,1)" font-size="55.5">Temperature (°C)</text>
<text transform="translate(101.80,2198.70) rotate(-90) scale(0.9510,1)" font-size="58.5">Average heat flow (W/g)</text>
<text transform="translate(620.90,1471.20) scale(0.9587,1)" font-size="43.8">Neat PLLA</text>
<text transform="translate(620.90,1525.30) scale(0.9616,1)" font-size="43.8">PLLA_Lignin</text>
<text transform="translate(620.90,1579.50) scale(0.9723,1)" font-size="43.8">PLLA_Lignin_C30B (1:1)</text>
<text transform="translate(620.90,1633.30) scale(0.9723,1)" font-size="43.8">PLLA_Lignin_C30B (1:2)</text>
<text transform="translate(620.90,1687.70) scale(0.9723,1)" font-size="43.8">PLLA_Lignin_C30B (2:1)</text>
<text transform="translate(246.40,1585.90) scale(0.9708,1)" font-size="43">0.5 W/g</text>
<text transform="translate(247.20,1640.00) scale(0.9563,1)" font-size="43">Endo</text>
<text transform="translate(1261.10,1495.30) scale(0.8473,1)" font-size="70.5">b</text>
</svg></body></html>
